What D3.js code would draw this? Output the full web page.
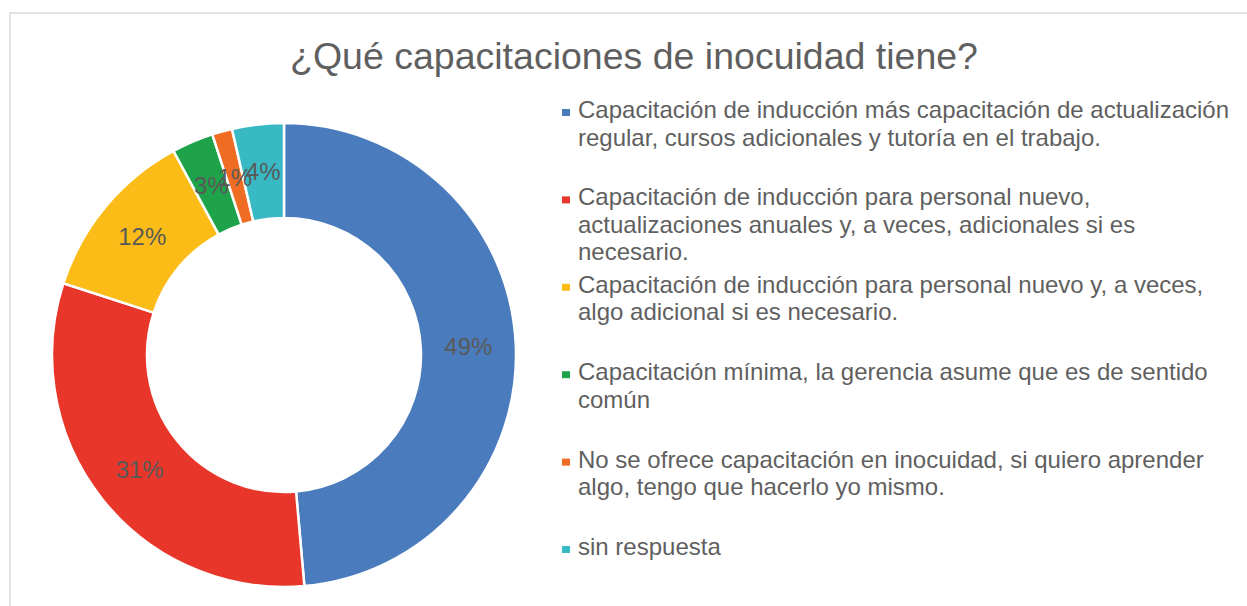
<!DOCTYPE html>
<html lang="es">
<head>
<meta charset="UTF-8">
<title>¿Qué capacitaciones de inocuidad tiene?</title>
<script src="https://d3js.org/d3.v7.min.js"></script>
<style>
  body { margin: 0; background: #fff; }
  text { font-family: "Liberation Sans", Arial, sans-serif; }
</style>
</head>
<body>
<svg id="chart" width="1247" height="606"></svg>
<script>
// data
var categories = [
  "Capacitación de inducción más capacitación de actualización regular, cursos adicionales y tutoría en el trabajo.",
  "Capacitación de inducción para personal nuevo, actualizaciones anuales y, a veces, adicionales si es necesario.",
  "Capacitación de inducción para personal nuevo y, a veces, algo adicional si es necesario.",
  "Capacitación mínima, la gerencia asume que es de sentido común",
  "No se ofrece capacitación en inocuidad, si quiero aprender algo, tengo que hacerlo yo mismo.",
  "sin respuesta"
];
var legendLines = [
  ["Capacitación de inducción más capacitación de actualización", "regular, cursos adicionales y tutoría en el trabajo."],
  ["Capacitación de inducción para personal nuevo,", "actualizaciones anuales y, a veces, adicionales si es", "necesario."],
  ["Capacitación de inducción para personal nuevo y, a veces,", "algo adicional si es necesario."],
  ["Capacitación mínima, la gerencia asume que es de sentido", "común"],
  ["No se ofrece capacitación en inocuidad, si quiero aprender", "algo, tengo que hacerlo yo mismo."],
  ["sin respuesta"]
];
var values = [48.6, 31.4, 12.1, 2.9, 1.4, 3.6];
var labels = ["49%", "31%", "12%", "3%", "1%", "4%"];
var colors = ["#4a7bbd", "#e8372a", "#fbbc17", "#1ea34a", "#f06c23", "#38b9c4"];

var svg = d3.select("#chart");

// outer frame
svg.append("rect")
  .attr("x", 10).attr("y", 13)
  .attr("width", 1260).attr("height", 620)
  .attr("fill", "#fff")
  .attr("stroke", "#d9d9d9")
  .attr("stroke-width", 1.5);

// title
svg.append("text")
  .attr("x", 634).attr("y", 69)
  .attr("text-anchor", "middle")
  .attr("font-size", 37.5)
  .attr("fill", "#5f5f5f")
  .text("¿Qué capacitaciones de inocuidad tiene?");

// donut
var pie = d3.pie().sort(null).value(function(d) { return d; });
var arc = d3.arc().innerRadius(137).outerRadius(232);
var arcs = pie(values);

var g = svg.append("g").attr("transform", "translate(284,355)");

g.selectAll("path").data(arcs).enter().append("path")
  .attr("d", arc)
  .attr("fill", function(d, i) { return colors[i]; })
  .attr("stroke", "#fff")
  .attr("stroke-width", 2.5)
  .attr("stroke-linejoin", "round");

g.selectAll(".lbl").data(arcs).enter().append("text")
  .attr("class", "lbl")
  .attr("x", function(d) { return arc.centroid(d)[0]; })
  .attr("y", function(d) { return arc.centroid(d)[1]; })
  .attr("dy", "0.35em")
  .attr("text-anchor", "middle")
  .attr("font-size", 24)
  .attr("fill", "#595959")
  .text(function(d, i) { return labels[i]; });

// legend
var legendY = d3.scalePoint().domain(categories).range([118, 555]);

var item = svg.selectAll(".legend").data(categories).enter().append("g")
  .attr("class", "legend")
  .attr("transform", function(d) { return "translate(0," + legendY(d) + ")"; });

item.append("rect")
  .attr("x", 562).attr("y", -9)
  .attr("width", 8).attr("height", 7)
  .attr("fill", function(d, i) { return colors[i]; });

item.append("text")
  .attr("x", 578)
  .attr("font-size", 24)
  .attr("fill", "#5f5f5f")
  .selectAll("tspan").data(function(d, i) { return legendLines[i]; }).enter().append("tspan")
  .attr("x", 578)
  .attr("dy", function(d, j) { return j === 0 ? 0 : 27.5; })
  .text(function(d) { return d; });
</script>
</body>
</html>
